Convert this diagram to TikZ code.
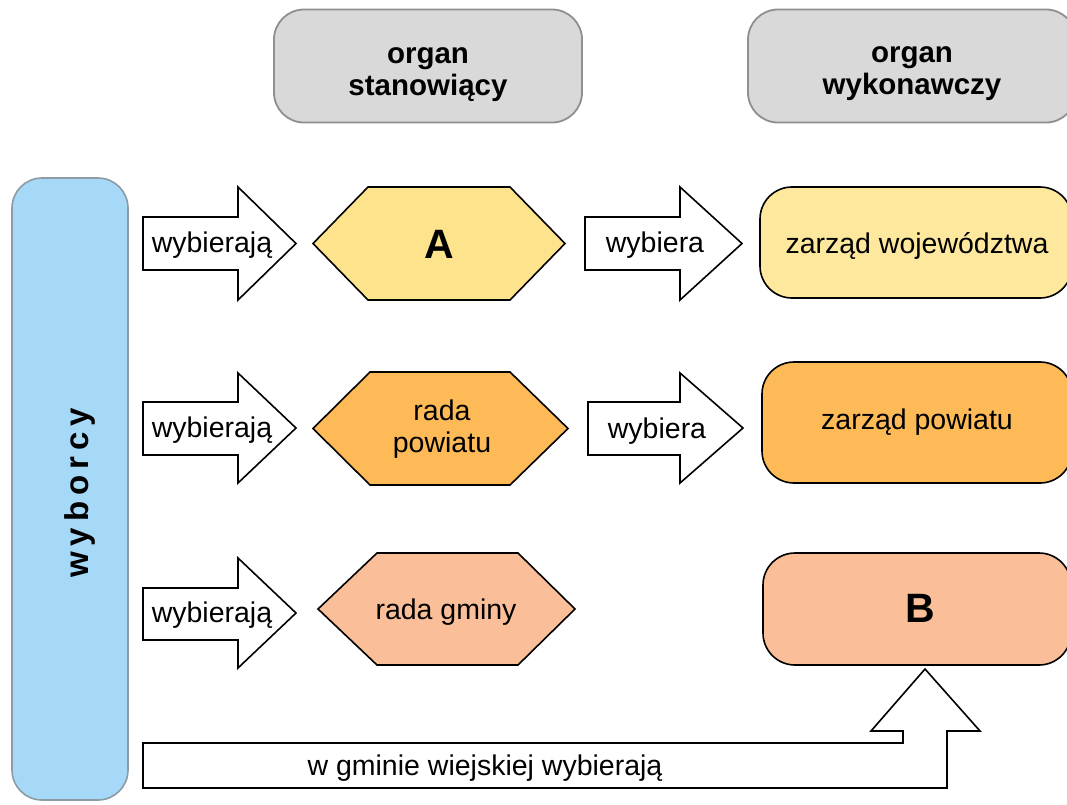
\documentclass[tikz,border=0pt]{standalone}
\usepackage{fontspec}
\setmainfont{Liberation Sans}
\definecolor{hdrfill}{HTML}{D9D9D9}
\definecolor{hdrline}{HTML}{8F8F8F}
\definecolor{bluefill}{HTML}{A6D9F8}
\definecolor{blueline}{HTML}{8C9BA5}
\definecolor{yelhex}{HTML}{FDE38C}
\definecolor{yelbox}{HTML}{FDE89E}
\definecolor{orng}{HTML}{FDBA57}
\definecolor{salmon}{HTML}{FABF99}
\tikzset{
  lbl/.style={font=\fontsize{28.5}{32}\selectfont, align=center, inner sep=0pt, anchor=base},
  biglbl/.style={font=\bfseries\fontsize{41}{41}\selectfont, inner sep=0pt, anchor=base},
  hdr/.style={draw=hdrline, fill=hdrfill, line width=1.8pt, rounded corners=30pt,
    minimum height=113pt, inner sep=0pt},
  hdrtxt/.style={font=\bfseries\fontsize{29.5}{32}\selectfont, align=center, inner sep=0pt, anchor=base},
  blk/.style={draw=black, line width=1.6pt, fill=white, line join=miter},
  hex/.style={draw=black, line width=1.6pt, line join=miter},
  rbox/.style={draw=black, line width=1.6pt, rounded corners=32pt, inner sep=0pt},
}
\begin{document}
\begin{tikzpicture}[x=1pt,y=-1pt]
\useasboundingbox (0,0) rectangle (1067,804);
\clip (0,0) rectangle (1067,804);
\fill[white] (0,0) rectangle (1067,804);

% headers
\node[hdr, minimum width=308pt] (h1) at (428,66) {};
\node[hdrtxt] (h1t) at (428,95) {organ\\stanowiący};
\node[hdr, minimum width=328pt] (h2) at (912,66) {};
\node[hdrtxt] (h2t) at (912,94) {organ\\wykonawczy};

% voters
\node[draw=blueline, fill=bluefill, line width=1.6pt, rounded corners=30pt, rotate=90,
  minimum width=622pt, minimum height=116pt, inner sep=0pt] (wyb) at (70,489) {};
\node[font=\bfseries\fontsize{33}{33}\selectfont\addfontfeature{LetterSpace=18}, rotate=90, inner sep=0pt, anchor=base] (wybt) at (88,493) {wyborcy};

% row 1
\draw[blk] (143,217) -- (238,217) -- (238,187) -- (296,243.5) -- (238,300) -- (238,270) -- (143,270) -- cycle;
\node[lbl] (r1a) at (212,252.5) {wybierają};
\draw[hex, fill=yelhex] (313,243.5) -- (368,187) -- (510,187) -- (565,243.5) -- (510,300) -- (368,300) -- cycle;
\node[biglbl] (A) at (439,258) {A};
\draw[blk] (585,217) -- (680,217) -- (680,187) -- (742,243.5) -- (680,300) -- (680,270) -- (585,270) -- cycle;
\node[lbl] (r1b) at (655,252) {wybiera};
\node[rbox, fill=yelbox, minimum width=312pt, minimum height=111pt] (zw) at (916,242.5) {};
\node[lbl] (zwt) at (917,253) {zarząd województwa};

% row 2
\draw[blk] (143,402) -- (238,402) -- (238,373) -- (296,428) -- (238,483) -- (238,455) -- (143,455) -- cycle;
\node[lbl] (r2a) at (212,437) {wybierają};
\draw[hex, fill=orng] (313,428.5) -- (370,372) -- (510,372) -- (568,428.5) -- (510,485) -- (370,485) -- cycle;
\node[lbl] (rp) at (442,452) {rada\\powiatu};
\draw[blk] (588,402) -- (680,402) -- (680,373) -- (743,428) -- (680,483) -- (680,455) -- (588,455) -- cycle;
\node[lbl] (r2b) at (657,438) {wybiera};
\node[rbox, fill=orng, minimum width=310pt, minimum height=121pt] (zp) at (917,422.5) {};
\node[lbl] (zpt) at (917,429) {zarząd powiatu};

% row 3
\draw[blk] (143,588) -- (238,588) -- (238,558) -- (296,613) -- (238,668) -- (238,640) -- (143,640) -- cycle;
\node[lbl] (r3a) at (212,622) {wybierają};
\draw[hex, fill=salmon] (318,609) -- (377,553) -- (518,553) -- (575,609) -- (518,665) -- (377,665) -- cycle;
\node[lbl] (rg) at (446,619) {rada gminy};
\node[rbox, fill=salmon, minimum width=308pt, minimum height=112pt] (Bb) at (917,609) {};
\node[biglbl] (B) at (920,622) {B};

% bottom arrow
\draw[blk] (143,743) -- (903,743) -- (903,731) -- (871,731) -- (925,669) -- (980,731) -- (947,731) -- (947,788) -- (143,788) -- cycle;
\node[lbl] (gw) at (485,775) {w gminie wiejskiej wybierają};
\end{tikzpicture}
\end{document}
